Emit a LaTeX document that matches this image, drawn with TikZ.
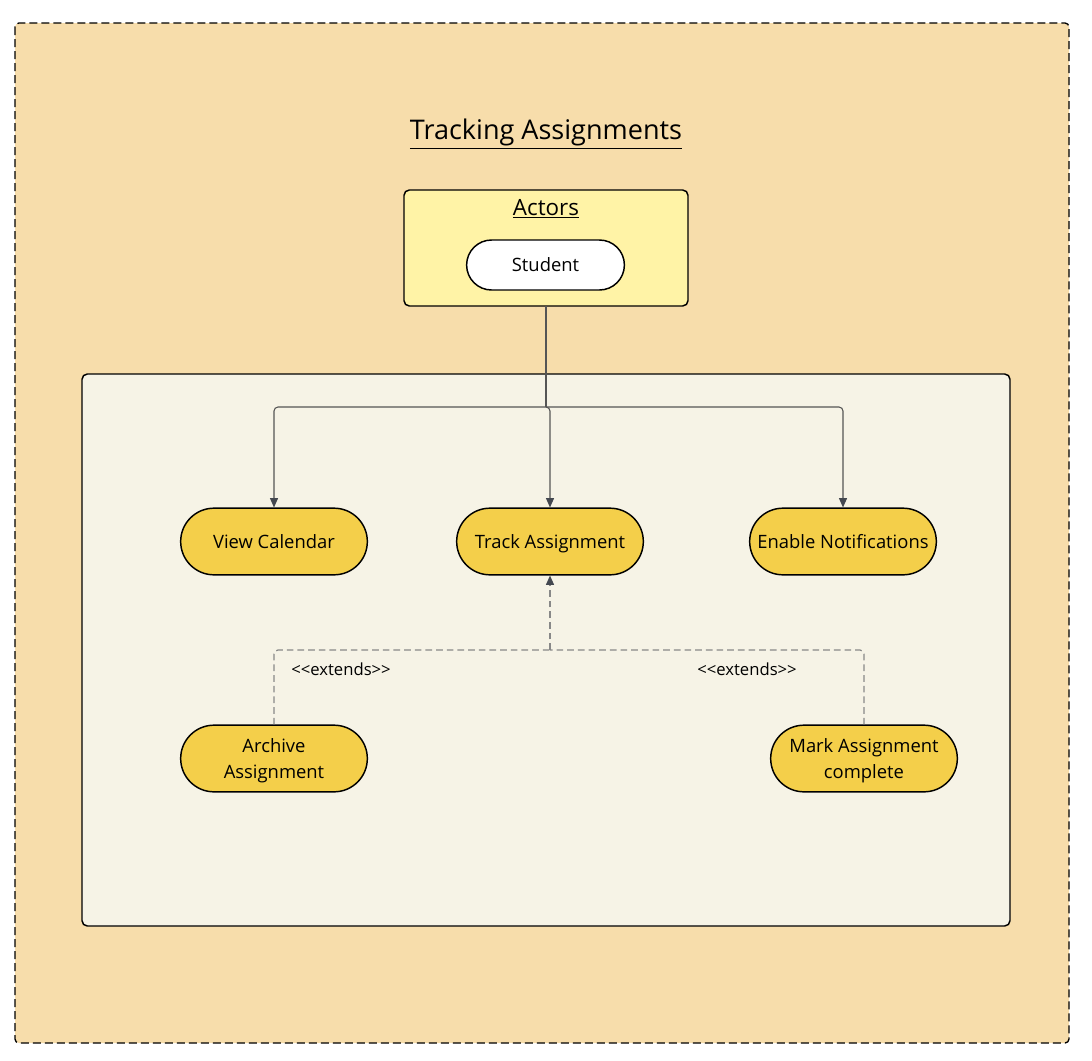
\documentclass[tikz,border=0pt]{standalone}
\usepackage{fontspec}
\setmainfont{Open Sans}
\usetikzlibrary{arrows.meta,shapes.misc}
\definecolor{outerfill}{HTML}{F7DDAB}
\definecolor{actorfill}{HTML}{FFF3A6}
\definecolor{innerfill}{HTML}{F6F3E6}
\definecolor{usefill}{HTML}{F4CF4A}
\definecolor{linegray}{HTML}{555555}
\definecolor{dashgray}{HTML}{888888}
\definecolor{tipgray}{HTML}{444850}
\tikzset{
  usecase/.style={rounded rectangle, draw=black, line width=1.1pt, fill=usefill,
    minimum width=144pt, minimum height=50pt, align=center, text depth=0pt, font=\fontsize{13.8}{20}\selectfont, inner sep=2pt},
  conn/.style={draw=linegray, line width=0.8pt, rounded corners=3pt, -{Triangle[length=7pt,width=6pt,color=tipgray]}},
  ext/.style={draw=dashgray, line width=0.9pt, dash pattern=on 5pt off 3pt, rounded corners=3pt},
  extarrow/.style={ext, -{Triangle[length=7pt,width=6pt,color=tipgray]}},
  lbl/.style={font=\fontsize{12.5}{14}\selectfont, inner sep=0pt}
}
\newcommand{\extlabel}{<\kern0pt<extends>\kern0pt>}
\begin{document}
\begin{tikzpicture}[x=0.75pt,y=-0.75pt]
\useasboundingbox (0,0) rectangle (1092,1060);
% outer frame
\draw[fill=outerfill, draw=black, line width=1pt, dash pattern=on 6pt off 3pt, rounded corners=3pt] (15,23) rectangle (1069,1043);
\node[font=\fontsize{20.3}{24}\selectfont, inner sep=0pt] (title) at (546,134) {\underline{Tracking Assignments}};
% actors
\draw[fill=actorfill, draw=black, line width=1.1pt, rounded corners=4pt] (404,190) rectangle (688,306);
\coordinate (actorsbot) at (546,306);
\node[font=\fontsize{16.8}{20}\selectfont, inner sep=0pt] (actors) at (546,209) {\underline{Actors}};
\node[rounded rectangle, draw=black, line width=1.1pt, fill=white, minimum width=125pt, minimum height=37.5pt, text depth=0pt, font=\fontsize{13.8}{16}\selectfont] (student) at (545.5,265) {Student};
% inner box
\draw[fill=innerfill, draw=black, line width=1.1pt, rounded corners=4pt] (82,374) rectangle (1010,926);
% use cases
\node[usecase] (view) at (274,541.5) {View Calendar};
\node[usecase] (track) at (550,541.5) {Track Assignment};
\node[usecase] (notify) at (843,541.5) {Enable Notifications};
\node[usecase] (archive) at (274,758.5) {Archive\\Assignment};
\node[usecase] (mark) at (864,758.5) {Mark Assignment\\complete};
% connectors
\coordinate (split) at (546,407);
\draw[draw=linegray, line width=0.8pt] (actorsbot) -- (split);
\draw[conn] (split) -- (274,407) -- (view.north);
\draw[conn] (split) -- (550,407) -- (track.north);
\draw[conn] (split) -- (843,407) -- (notify.north);
\coordinate (join) at (550,650);
\draw[ext] (archive.north) -- (274,650) -- (join);
\draw[ext] (mark.north) -- (864,650) -- (join);
\draw[extarrow] (join) -- (track.south);
\node[lbl] (ext1) at (341,669) {\extlabel};
\node[lbl] (ext2) at (747,669) {\extlabel};
\end{tikzpicture}
\end{document}
